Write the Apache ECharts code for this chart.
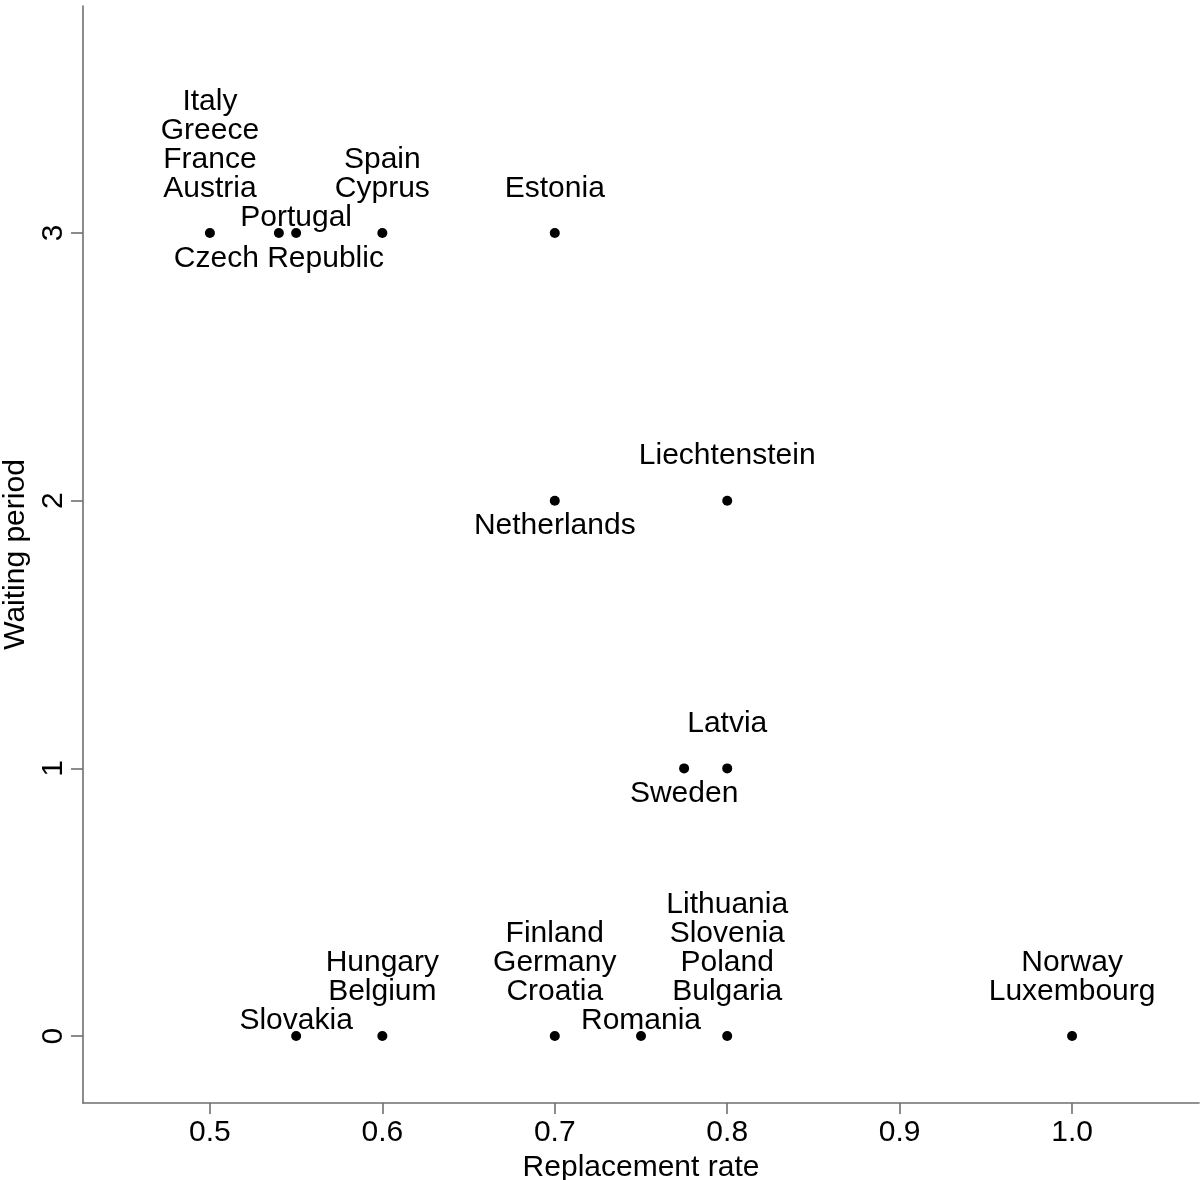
<!DOCTYPE html>
<html>
<head>
<meta charset="utf-8">
<title>Replacement rate vs waiting period</title>
<script src="https://cdn.jsdelivr.net/npm/echarts@6/dist/echarts.min.js"></script>
<style>
    html, body { margin: 0; padding: 0; background: #fff; }
    #main { width: 1200px; height: 1180px; }
</style>
</head>
<body>
<div id="main"></div>
<script type="text/javascript">
    // one entry per country, stacked labels go bottom -> top in this order
    var countries = ['Austria', 'France', 'Greece', 'Italy', 'Czech Republic', 'Portugal',
        'Cyprus', 'Spain', 'Estonia', 'Netherlands', 'Liechtenstein', 'Sweden', 'Latvia',
        'Slovakia', 'Belgium', 'Hungary', 'Croatia', 'Germany', 'Finland', 'Romania',
        'Bulgaria', 'Poland', 'Slovenia', 'Lithuania', 'Luxembourg', 'Norway'];
    var rates = [0.5, 0.5, 0.5, 0.5, 0.54, 0.55,
        0.6, 0.6, 0.7, 0.7, 0.8, 0.775, 0.8,
        0.55, 0.6, 0.6, 0.7, 0.7, 0.7, 0.75,
        0.8, 0.8, 0.8, 0.8, 1.0, 1.0];
    var waits = [3, 3, 3, 3, 3, 3,
        3, 3, 3, 2, 2, 1, 1,
        0, 0, 0, 0, 0, 0, 0,
        0, 0, 0, 0, 0, 0];
    var xTicks = [0.5, 0.6, 0.7, 0.8, 0.9, 1.0];
    var yTicks = [0, 1, 2, 3];

    // label placement
    var labelBelow = ['Czech Republic', 'Netherlands', 'Sweden'];
    var labelNear = ['Portugal', 'Slovakia', 'Romania'];

    var FONT = 'Liberation Sans, Arial, sans-serif';
    var axisGrey = '#6f6f6f';

    // points sharing a position get one stacked label
    var groups = [];
    countries.forEach(function (c, i) {
        var g = null;
        for (var k = 0; k < groups.length; k++) {
            if (groups[k].x === rates[i] && groups[k].y === waits[i]) { g = groups[k]; }
        }
        if (!g) {
            g = { x: rates[i], y: waits[i], names: [] };
            groups.push(g);
        }
        g.names.push(c);
    });

    var points = groups.map(function (g) {
        var first = g.names[0];
        var label;
        if (labelBelow.indexOf(first) >= 0) {
            label = { position: 'bottom', distance: 6 };
        } else if (labelNear.indexOf(first) >= 0) {
            label = { position: 'top', distance: -4 };
        } else {
            label = { position: 'top', distance: 25 };
        }
        return {
            name: g.names.slice().reverse().join('\n'),
            value: [g.x, g.y],
            label: label
        };
    });

    var myChart = echarts.init(document.getElementById('main'));
    var option = {
        animation: false,
        backgroundColor: '#fff',
        grid: {
            left: 83,
            right: 1,
            top: 6,
            bottom: 77,
            containLabel: false,
            outerBoundsMode: 'none'
        },
        xAxis: {
            type: 'value',
            min: 0.4264,
            max: 1.0736,
            name: 'Replacement rate',
            nameLocation: 'middle',
            nameGap: 43,
            nameTextStyle: { color: '#000', fontFamily: FONT, fontSize: 30, lineHeight: 29 },
            axisLine: { show: true, onZero: false, lineStyle: { color: axisGrey, width: 1.6 } },
            axisTick: { show: true, length: 11, customValues: xTicks, lineStyle: { color: axisGrey, width: 1.6 } },
            axisLabel: {
                customValues: xTicks,
                margin: 15,
                color: '#000',
                fontFamily: FONT,
                fontSize: 30,
                lineHeight: 29,
                formatter: function (v) { return v.toFixed(1); }
            },
            splitLine: { show: false }
        },
        yAxis: {
            type: 'value',
            min: -0.25,
            max: 3.848,
            name: 'Waiting period',
            nameLocation: 'middle',
            nameGap: 44,
            nameRotate: 90,
            nameTextStyle: { color: '#000', fontFamily: FONT, fontSize: 30, lineHeight: 29 },
            axisLine: { show: true, onZero: false, lineStyle: { color: axisGrey, width: 1.6 } },
            axisTick: { show: true, length: 12, customValues: yTicks, lineStyle: { color: axisGrey, width: 1.6 } },
            axisLabel: {
                customValues: yTicks,
                rotate: 90,
                margin: 15,
                color: '#000',
                fontFamily: FONT,
                fontSize: 30,
                lineHeight: 29
            },
            splitLine: { show: false }
        },
        series: [{
            type: 'scatter',
            symbol: 'circle',
            symbolSize: 10,
            itemStyle: { color: '#000', opacity: 1 },
            label: {
                show: true,
                formatter: '{b}',
                color: '#000',
                fontFamily: FONT,
                fontSize: 30,
                lineHeight: 29,
                align: 'center'
            },
            labelLayout: { hideOverlap: false },
            data: points
        }]
    };
    myChart.setOption(option);
</script>
</body>
</html>
